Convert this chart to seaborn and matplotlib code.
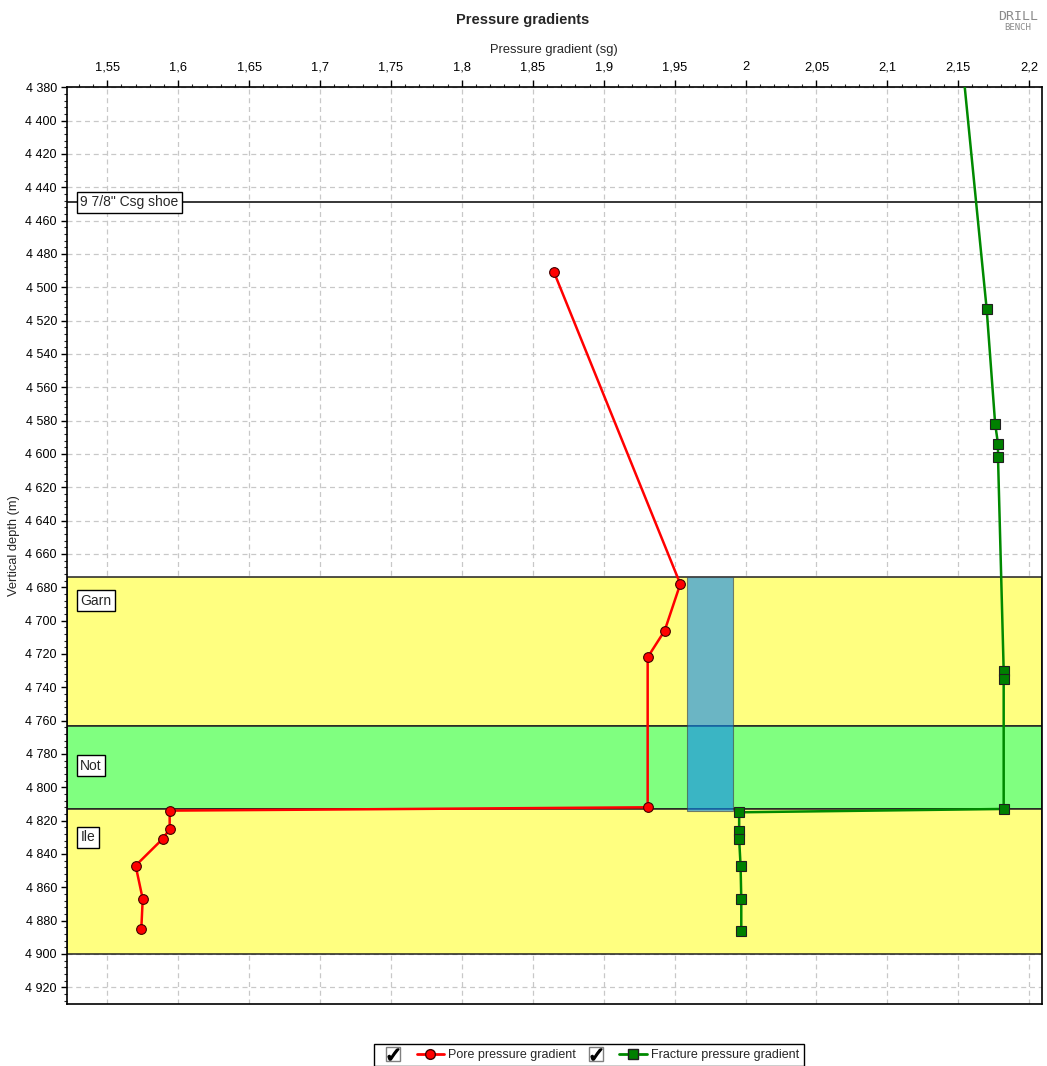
import numpy as np
import pandas as pd
import matplotlib
matplotlib.use('Agg')
import matplotlib.pyplot as plt
import seaborn as sns
from matplotlib.ticker import MultipleLocator, FuncFormatter
from matplotlib.lines import Line2D
from matplotlib.legend_handler import HandlerTuple

# ---------------- data ----------------
pore_gradient = [1.865, 1.954, 1.943, 1.931, 1.931, 1.594, 1.594, 1.589, 1.570, 1.575, 1.574]
pore_depth = [4491, 4678, 4706, 4722, 4812, 4814, 4825, 4831, 4847, 4867, 4885]

frac_gradient = [2.1534, 2.170, 2.176, 2.178, 2.178, 2.182, 2.182, 2.182,
                 1.9955, 1.9955, 1.9955, 1.9965, 1.997, 1.997]
frac_depth = [4370, 4513, 4582, 4594, 4602, 4730, 4735, 4813,
              4815, 4826, 4831, 4847, 4867, 4886]

formation_names = ['Garn', 'Not', 'Ile']
formation_top = [4674, 4763, 4813]
formation_base = [4763, 4813, 4900]
formation_colors = ['#FFFF80', '#80FF80', '#FFFF80']
formation_label_depth = [4688, 4787, 4830]

casing_label = '9 7/8" Csg shoe'
casing_depth = 4449

window_gradient = [1.9584, 1.9909]
window_depth = [4674, 4814]

# ---------------- figure ----------------
sns.set_theme(style='white')
plt.rcParams['font.family'] = ['Liberation Sans', 'DejaVu Sans']

fig = plt.figure(figsize=(10.47, 10.66), dpi=100)
ax = fig.add_axes([0.0637, 0.0582, 0.9952 - 0.0637, 0.9181 - 0.0582])

ax.set_xlim(1.5214, 2.209)
ax.set_ylim(4930, 4380)

# grid
ax.set_axisbelow(True)
ax.grid(True, which='major', color='#c8c8c8', linestyle=(0, (4, 3)), linewidth=0.9)

# formation bands
for name, top, base, col in zip(formation_names, formation_top, formation_base, formation_colors):
    ax.axhspan(top, base, facecolor=col, edgecolor='#202020', linewidth=1.1, zorder=1)

# mud window
ax.fill_betweenx(window_depth, window_gradient[0], window_gradient[1],
                 facecolor=(14/255, 135/255, 240/255), alpha=0.61,
                 edgecolor='#404040', linewidth=0.8, zorder=2)

# casing shoe line
ax.axhline(casing_depth, color='black', linewidth=1.1, zorder=2.5)

# data lines
pore_df = pd.DataFrame({'gradient': pore_gradient, 'depth': pore_depth})
frac_df = pd.DataFrame({'gradient': frac_gradient, 'depth': frac_depth})

sns.lineplot(data=pore_df, x='gradient', y='depth', sort=False, estimator=None,
             color='#ff0000', linewidth=1.8, marker='o', markersize=7,
             markerfacecolor='#ff0000', markeredgecolor='#400000', markeredgewidth=0.8,
             ax=ax, zorder=3)
sns.lineplot(data=frac_df, x='gradient', y='depth', sort=False, estimator=None,
             color='#008a00', linewidth=1.8, marker='s', markersize=6.5,
             markerfacecolor='#008000', markeredgecolor='#202020', markeredgewidth=0.8,
             ax=ax, zorder=3)

# labels in boxes
box = dict(boxstyle='square,pad=0.25', facecolor='white', edgecolor='black', linewidth=1)
ytr = ax.get_yaxis_transform()
for name, d in zip(formation_names, formation_label_depth):
    ax.text(0.014, d, name, transform=ytr, ha='left', va='center', fontsize=10,
            bbox=box, zorder=5)
ax.text(0.014, casing_depth, casing_label, transform=ytr, ha='left', va='center',
        fontsize=10, bbox=box, zorder=5)

# axes styling
ax.xaxis.tick_top()
ax.xaxis.set_label_position('top')
ax.xaxis.set_major_locator(MultipleLocator(0.05))
ax.xaxis.set_minor_locator(MultipleLocator(0.01))
ax.yaxis.set_major_locator(MultipleLocator(20))
ax.yaxis.set_minor_locator(MultipleLocator(4))

def fmt_x(v, pos):
    s = f"{v:.2f}".rstrip('0').rstrip('.')
    return s.replace('.', ',')

def fmt_y(v, pos):
    return f"{int(round(v)):,}".replace(',', ' ')

ax.xaxis.set_major_formatter(FuncFormatter(fmt_x))
ax.yaxis.set_major_formatter(FuncFormatter(fmt_y))

ax.tick_params(axis='x', which='major', direction='out', length=5, width=1, pad=5,
               labelsize=9.3, colors='black', top=True, bottom=False)
ax.tick_params(axis='x', which='minor', direction='out', length=2.5, width=0.8,
               top=True, bottom=False)
ax.tick_params(axis='y', which='major', direction='out', length=4, width=1, pad=3,
               labelsize=9, colors='black', left=True)
ax.tick_params(axis='y', which='minor', direction='out', length=2.5, width=0.8, left=True)

for sp in ax.spines.values():
    sp.set_color('black')
    sp.set_linewidth(1.2)

ax.set_xlabel('Pressure gradient (sg)', fontsize=9.3, labelpad=6)
ax.set_ylabel('Vertical depth (m)', fontsize=9.3)
ax.yaxis.set_label_coords(-0.048, 0.5)

fig.text(523/1047, 1 - 20/1066, 'Pressure gradients', ha='center', va='center',
         fontsize=10.5, fontweight='bold')

# logo
fig.text(1018/1047, 1 - 16/1066, 'DRILL', ha='center', va='center', fontsize=9.5,
         color='#8a8a8a', family='DejaVu Sans Mono')
fig.text(1018/1047, 1 - 27/1066, 'BENCH', ha='center', va='center', fontsize=6.5,
         color='#8a8a8a', family='DejaVu Sans Mono')

# legend
cb_sq = Line2D([], [], linestyle='none', marker='s', markersize=10,
               markerfacecolor='white', markeredgecolor='#808080', markeredgewidth=1)
cb_ck = Line2D([], [], linestyle='none', marker=r'$\checkmark$', markersize=8,
               color='black')
pore_h = Line2D([], [], color='#ff0000', linewidth=2, marker='o', markersize=7,
                markerfacecolor='#ff0000', markeredgecolor='#400000')
frac_h = Line2D([], [], color='#008a00', linewidth=2, marker='s', markersize=6.5,
                markerfacecolor='#008000', markeredgecolor='#202020')
leg = fig.legend([(cb_sq, cb_ck), pore_h, (cb_sq, cb_ck), frac_h],
                 ['', 'Pore pressure gradient', '', 'Fracture pressure gradient'],
                 handler_map={tuple: HandlerTuple(ndivide=1)},
                 loc='upper center', bbox_to_anchor=(589/1047, 1 - 1044/1066),
                 ncol=4, frameon=True, fancybox=False, fontsize=9,
                 handlelength=2.2, handletextpad=0.3, columnspacing=0.5,
                 borderpad=0.4, borderaxespad=0)
leg.get_frame().set_edgecolor('black')
leg.get_frame().set_linewidth(1)
leg.get_frame().set_facecolor('white')
leg.get_frame().set_alpha(1)

fig.savefig('out.png', dpi=100, facecolor='white')
